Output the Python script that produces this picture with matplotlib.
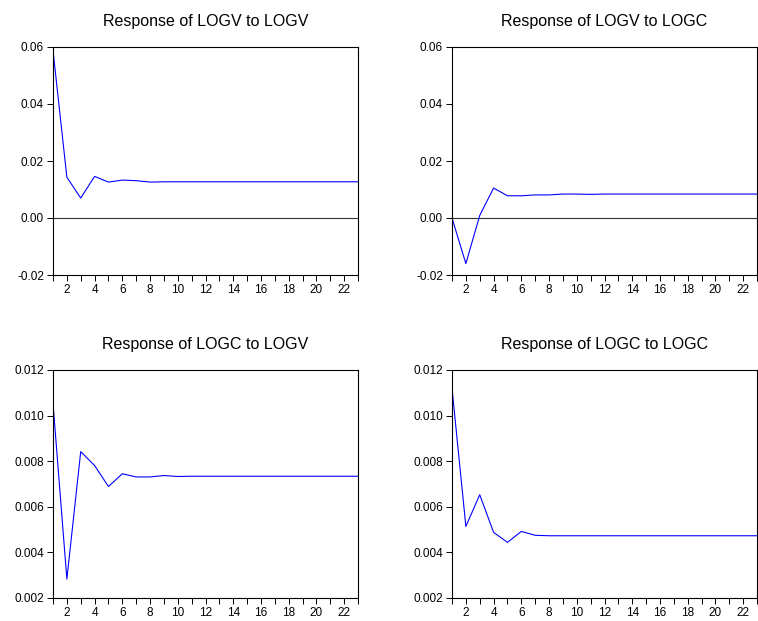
"""Impulse responses (LOGV / LOGC), 2x2 panels in EViews style."""

import matplotlib

matplotlib.use("Agg")
import matplotlib.pyplot as plt
from matplotlib.ticker import MultipleLocator

plt.rcParams["font.family"] = ["Liberation Sans", "DejaVu Sans"]

periods = list(range(1, 24))

logv_to_logv = [0.0588, 0.0143, 0.0070, 0.0146, 0.0126, 0.0133, 0.0131, 0.0126,
                0.0127, 0.0127, 0.0127, 0.0127, 0.0127, 0.0127, 0.0127, 0.0127,
                0.0127, 0.0127, 0.0127, 0.0127, 0.0127, 0.0127, 0.0127]
logv_to_logc = [0.0000, -0.0160, 0.0009, 0.0105, 0.0078, 0.0078, 0.0081, 0.0081,
                0.0084, 0.0084, 0.0083, 0.0084, 0.0084, 0.0084, 0.0084, 0.0084,
                0.0084, 0.0084, 0.0084, 0.0084, 0.0084, 0.0084, 0.0084]
logc_to_logv = [0.01054, 0.00283, 0.00842, 0.00781, 0.00689, 0.00745, 0.00731,
                0.00731, 0.00737, 0.00733, 0.00734, 0.00734, 0.00734, 0.00734,
                0.00734, 0.00734, 0.00734, 0.00734, 0.00734, 0.00734, 0.00734,
                0.00734, 0.00734]
logc_to_logc = [0.01120, 0.00514, 0.00653, 0.00488, 0.00444, 0.00492, 0.00475,
                0.00473, 0.00473, 0.00473, 0.00473, 0.00473, 0.00473, 0.00473,
                0.00473, 0.00473, 0.00473, 0.00473, 0.00473, 0.00473, 0.00473,
                0.00473, 0.00473]

titles = ["Response of LOGV to LOGV", "Response of LOGV to LOGC",
          "Response of LOGC to LOGV", "Response of LOGC to LOGC"]
top_yticks = [-0.02, 0.00, 0.02, 0.04, 0.06]
bot_yticks = [0.002, 0.004, 0.006, 0.008, 0.010, 0.012]

W, H = 758, 621
fig = plt.figure(figsize=(W / 100, H / 100), dpi=100)

# (left, top, right, bottom) in pixels
boxes = [(53, 47, 358, 275), (452, 47, 757, 275),
         (53, 370, 358, 598), (452, 370, 757, 598)]
series = [logv_to_logv, logv_to_logc, logc_to_logv, logc_to_logc]

for i, (l, t, r, b) in enumerate(boxes):
    ax = fig.add_axes([l / W, 1 - b / H, (r - l) / W, (b - t) / H])
    ax.plot(periods, series[i], color="#0000ff", linewidth=0.8)
    if i < 2:
        ax.axhline(0.0, color="#333333", linewidth=0.8, zorder=1)
        ax.set_ylim(-0.02, 0.06)
        ax.set_yticks(top_yticks)
        ax.set_yticklabels([f"{v:.2f}" for v in top_yticks])
    else:
        ax.set_ylim(0.002, 0.012)
        ax.set_yticks(bot_yticks)
        ax.set_yticklabels([f"{v:.3f}" for v in bot_yticks])
    ax.set_xlim(1, 23)
    ax.set_xticks(range(2, 23, 2))
    ax.xaxis.set_minor_locator(MultipleLocator(1))
    ax.tick_params(axis="both", which="both", direction="out", labelsize=8.5,
                   length=4, width=0.7, pad=2.5)
    for s in ax.spines.values():
        s.set_linewidth(0.8)
    ax.set_title(titles[i], fontsize=11.5, pad=15)

fig.savefig("out.png", dpi=100)
